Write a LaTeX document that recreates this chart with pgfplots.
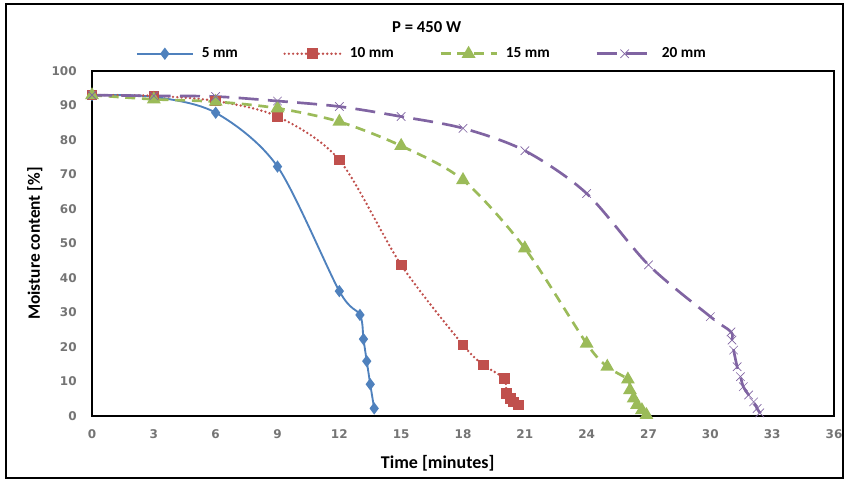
\documentclass[border=0pt]{standalone}
\usepackage{fontspec}
\setmainfont{Carlito}
\newfontfamily\tickfont{DejaVu Sans}
\usepackage{pgfplots}
\pgfplotsset{compat=1.18}
\definecolor{cblue}{HTML}{4F81BD}
\definecolor{cred}{HTML}{C0504D}
\definecolor{cgreen}{HTML}{9BBB59}
\definecolor{cpurple}{HTML}{8064A2}
\definecolor{tickgray}{HTML}{747474}
\begin{document}
\begin{tikzpicture}
\useasboundingbox (0pt,0pt) rectangle (636pt,360pt);
\draw[line width=1.5pt] (4.5pt,1.5pt) rectangle (632.25pt,357pt);
\begin{axis}[
  at={(69pt,48pt)}, anchor=south west,
  scale only axis, width=556.5pt, height=258.75pt,
  xmin=0, xmax=36, ymin=0, ymax=100,
  xtick={0,3,...,36}, ytick={0,10,...,100},
  major tick length=0pt,
  axis line style={black, line width=1pt},
  /pgf/number format/assume math mode=true,
  ticklabel style={font=\tickfont\bfseries\fontsize{9}{11}\selectfont, text=tickgray},
  xticklabel style={yshift=-7pt},
  yticklabel style={xshift=-8pt},
  xlabel={\bfseries Time [minutes]},
  ylabel={\bfseries Moisture content [\%]},
  xlabel style={font=\bfseries\fontsize{13.5}{15}\selectfont, yshift=-5pt, xshift=-19pt},
  ylabel style={font=\bfseries\fontsize{13}{15}\selectfont, yshift=0pt},
  legend columns=4,
  legend style={draw=none, fill=none, at={(0.445,1.050)}, anchor=center,
    font=\bfseries\fontsize{11.5}{13}\selectfont,
    /tikz/every odd column/.append style={column sep=4pt},
    /tikz/every even column/.append style={column sep=32pt}},
  legend image code/.code={
    \draw[mark repeat=2,mark phase=2] plot coordinates {(0pt,0pt) (21pt,0pt) (42pt,0pt)};},
  clip=false,
]
\node[font=\bfseries\fontsize{12.5}{14}\selectfont, anchor=center] at (rel axis cs:0.451,1.127) {P = 450 W};
\addplot[cblue, line width=1.4pt, smooth, tension=0.5, mark=diamond*, mark size=3.5pt, mark options={solid, fill=cblue}]
coordinates {(0,93.0) (3,92.5) (6,87.9) (9,72.3) (12,36.2) (13,29.3) (13.17,22.3) (13.33,15.9) (13.5,9.2) (13.69,2.2)};
\addlegendentry{5 mm}
\addplot[cred, line width=2pt, line cap=round, dash pattern=on 0pt off 3.2pt, smooth, tension=0.5, mark=square*, mark size=3pt, mark options={solid, fill=cred}]
coordinates {(0,93.0) (3,92.8) (6,91.3) (9,86.8) (12,74.2) (15,43.8) (18,20.6) (19,14.8) (20,10.8) (20.1,6.6) (20.3,5.1) (20.45,4.1) (20.7,3.2)};
\addlegendentry{10 mm}
\addplot[cgreen, line width=2pt, dash pattern=on 7.5pt off 5pt, smooth, tension=0.5, mark=triangle*, mark size=4pt, mark options={solid, fill=cgreen}]
coordinates {(0,93.0) (3,91.8) (6,91.1) (9,89.2) (12,85.3) (15,78.3) (18,68.4) (21,48.6) (24,21.0) (25,14.3) (26,10.6) (26.1,7.5) (26.28,5.1) (26.44,3.2) (26.68,1.7) (26.9,0.3)};
\addlegendentry{15 mm}
\addplot[cpurple, line width=2pt, dash pattern=on 15pt off 7pt, smooth, tension=0.5, mark=x, mark size=4.5pt, mark options={solid, line width=0.5pt}]
coordinates {(0,93.0) (3,92.8) (6,92.6) (9,91.3) (12,89.7) (15,86.8) (18,83.4) (21,76.9) (24,64.5) (27,43.8) (30,28.8) (31,24.4) (31.05,22.0) (31.13,19.1) (31.3,14.3) (31.46,11.4) (31.6,8.5) (31.86,6.1) (32.1,4.1) (32.27,2.2) (32.4,0.9)};
\addlegendentry{20 mm}
\end{axis}
\end{tikzpicture}
\end{document}
